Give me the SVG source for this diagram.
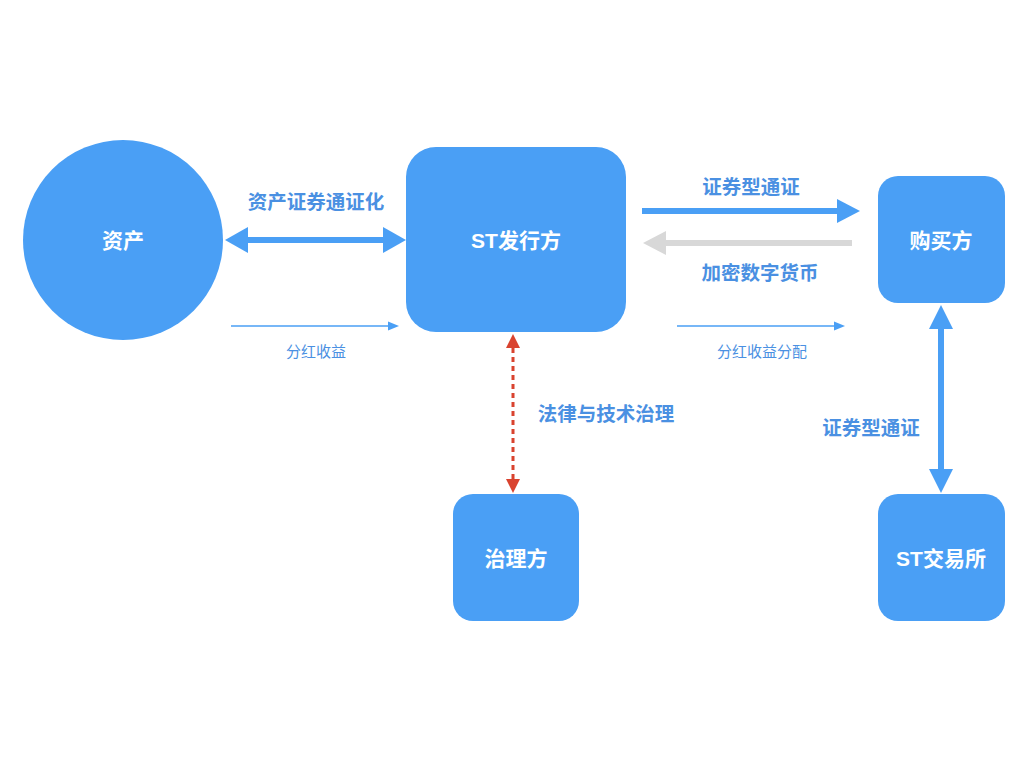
<svg xmlns="http://www.w3.org/2000/svg" width="1024" height="768" viewBox="0 0 1024 768">
<style>
.node{fill:#4A9FF5}
.nt{fill:#fff;font-family:"Liberation Sans","Noto Sans CJK SC",sans-serif;font-size:21px;font-weight:bold;text-anchor:middle;dominant-baseline:central}
.lb{fill:#4A90E2;font-family:"Liberation Sans","Noto Sans CJK SC",sans-serif;font-size:19.5px;font-weight:bold;text-anchor:middle;dominant-baseline:central}
.ls{fill:#4A90E2;font-family:"Liberation Sans","Noto Sans CJK SC",sans-serif;font-size:15px;text-anchor:middle;dominant-baseline:central}
</style>
<rect width="1024" height="768" fill="#fff"/>
<g id="asset"><circle class="node" cx="123" cy="240" r="100"/><text class="nt" x="123" y="240">资产</text></g>
<g id="issuer"><rect class="node" x="406" y="147" width="220" height="185" rx="30"/><text class="nt" x="516" y="240">ST发行方</text></g>
<g id="buyer"><rect class="node" x="878" y="176" width="127" height="127" rx="20"/><text class="nt" x="941" y="240">购买方</text></g>
<g id="gov"><rect class="node" x="453" y="494" width="126" height="127" rx="20"/><text class="nt" x="516" y="558">治理方</text></g>
<g id="exchange"><rect class="node" x="878" y="494" width="127" height="127" rx="20"/><text class="nt" x="941" y="558">ST交易所</text></g>
<g id="connectors">
<line x1="244" y1="240" x2="387" y2="240" stroke="#4A9FF5" stroke-width="6"/>
<polygon points="225,240 248,227 248,253" fill="#4A9FF5"/>
<polygon points="406,240 383,227 383,253" fill="#4A9FF5"/>
<text class="lb" x="316" y="202">资产证券通证化</text>
<line x1="642" y1="211" x2="840" y2="211" stroke="#4A9FF5" stroke-width="6"/>
<polygon points="860,211 837,199 837,223" fill="#4A9FF5"/>
<text class="lb" x="751" y="187">证券型通证</text>
<line x1="852" y1="243" x2="663" y2="243" stroke="#D8D8D8" stroke-width="6"/>
<polygon points="643,243 666,231 666,255" fill="#D8D8D8"/>
<text class="lb" x="760" y="273">加密数字货币</text>
<line x1="231" y1="326" x2="390" y2="326" stroke="#4A9FF5" stroke-width="1.5"/>
<polygon points="399,326 388,321.5 388,330.5" fill="#4A9FF5"/>
<text class="ls" x="316" y="351">分红收益</text>
<line x1="677" y1="326" x2="836" y2="326" stroke="#4A9FF5" stroke-width="1.5"/>
<polygon points="845,326 834,321.5 834,330.5" fill="#4A9FF5"/>
<text class="ls" x="762" y="351">分红收益分配</text>
<line x1="513" y1="348" x2="513" y2="480" stroke="#D9432F" stroke-width="3" stroke-dasharray="5,4"/>
<polygon points="513,334 506,348 520,348" fill="#D9432F"/>
<polygon points="513,493 506,479 520,479" fill="#D9432F"/>
<text class="lb" x="606" y="414">法律与技术治理</text>
<line x1="941" y1="325" x2="941" y2="473" stroke="#4A9FF5" stroke-width="6"/>
<polygon points="941,305 929,329 953,329" fill="#4A9FF5"/>
<polygon points="941,493 929,469 953,469" fill="#4A9FF5"/>
<text class="lb" x="871" y="428">证券型通证</text>
</g>
</svg>
